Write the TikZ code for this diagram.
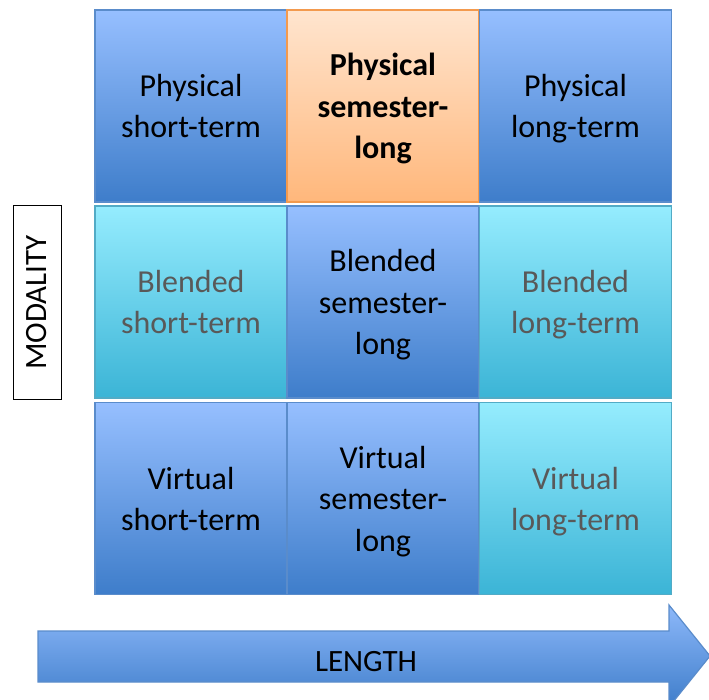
\documentclass[tikz,border=0pt]{standalone}
\usepackage{fontspec}
\setmainfont{Carlito}

\definecolor{blueT}{HTML}{96BFFF}
\definecolor{blueB}{HTML}{3E7DCA}
\definecolor{blueline}{HTML}{5A8CCB}
\definecolor{cyanT}{HTML}{95ECFE}
\definecolor{cyanB}{HTML}{3BB4D6}
\definecolor{cyanline}{HTML}{52ABC6}
\definecolor{orangeT}{HTML}{FFE5CF}
\definecolor{orangeB}{HTML}{FFB77B}
\definecolor{orangeline}{HTML}{F39A4E}
\definecolor{graytext}{HTML}{595959}

\newcommand{\topstrut}{\rule{0pt}{35pt}}
\newcommand{\botstrut}{\rule[-12.5pt]{0pt}{12.5pt}}

\tikzset{
  cell/.style={draw=blueline, line width=1.2pt, minimum width=192pt, minimum height=192pt,
    inner sep=0pt, text width=188pt, align=center, font=\fontsize{32}{41.5}\selectfont,
    execute at begin node=\topstrut, execute at end node=\botstrut,
    top color=blueT, bottom color=blueB},
  cyancell/.style={cell, draw=cyanline, top color=cyanT, bottom color=cyanB, text=graytext},
  orangecell/.style={cell, draw=orangeline, top color=orangeT, bottom color=orangeB,
    font=\fontsize{32}{41.5}\selectfont\bfseries},
}

\begin{document}
\begin{tikzpicture}[x=1pt,y=-1pt]
\useasboundingbox (0,0) rectangle (709,700);

% grid of modalities
\node[cell] (pshort) at (191,106) {Physical\\short-term};
\node[orangecell] (psem) at (383,106) {Physical\\semester-\\long};
\node[cell] (plong) at (575.5,106) {Physical\\long-term};

\node[cyancell] (bshort) at (191,302) {Blended\\short-term};
\node[cell] (bsem) at (383,302) {Blended\\semester-\\long};
\node[cyancell] (blong) at (575.5,302) {Blended\\long-term};

\node[cell] (vshort) at (191,498.5) {Virtual\\short-term};
\node[cell] (vsem) at (383,498.5) {Virtual\\semester-\\long};
\node[cyancell] (vlong) at (575.5,498.5) {Virtual\\long-term};

% axis labels
\node[draw=black, line width=1pt, rotate=90, minimum width=193pt, minimum height=48pt,
  inner sep=0pt, font=\fontsize{31}{33}\selectfont] (modality) at (37,302.5) {MODALITY};

\begin{scope}
\clip (0,0) rectangle (709,700);
\draw[draw=blueline, line width=1.2pt, top color=blueT!90!blueB, bottom color=blueB]
  (38,631) -- (669,631) -- (669,605) -- (710,656) -- (669,707) -- (669,682) -- (38,682) -- cycle;
\end{scope}
\node[font=\fontsize{31}{33}\selectfont] (length) at (366,662) {LENGTH};

\end{tikzpicture}
\end{document}
